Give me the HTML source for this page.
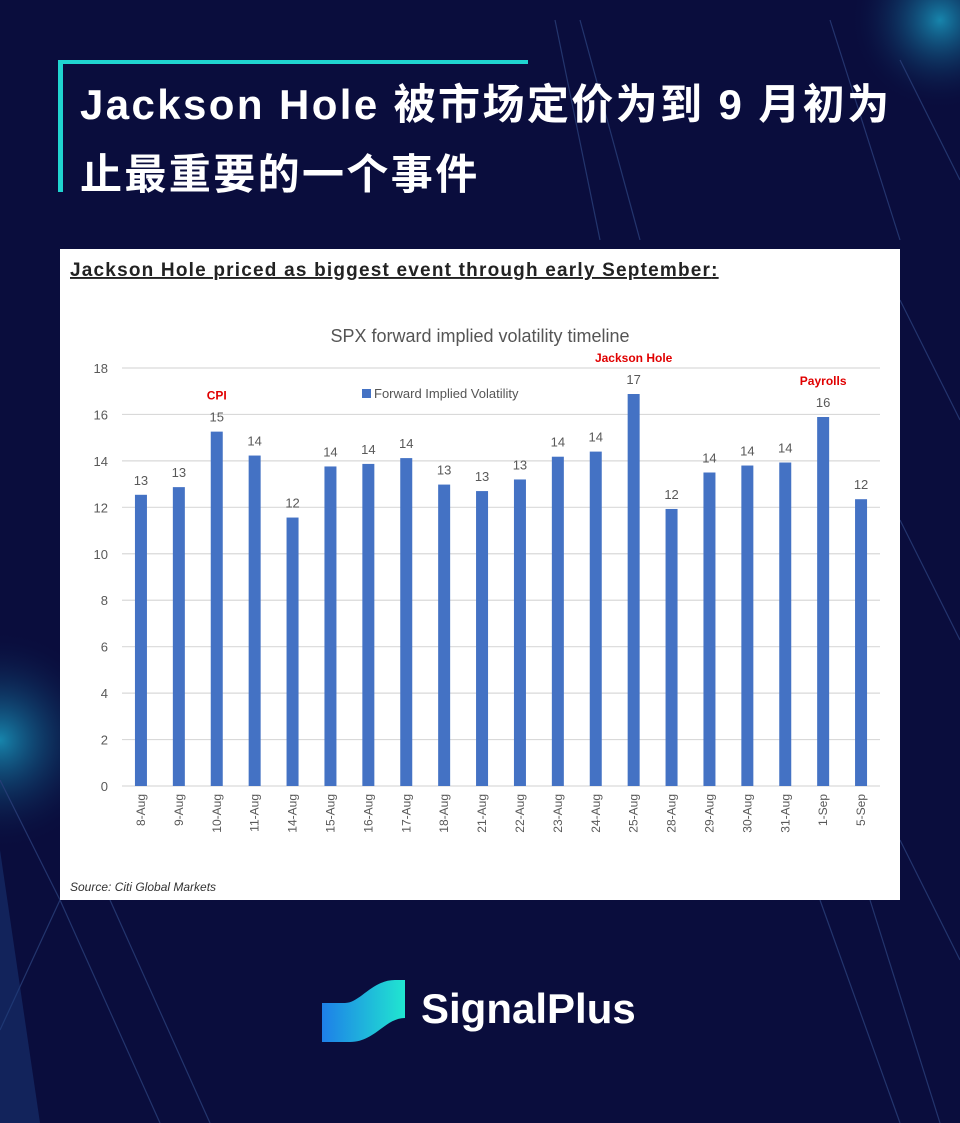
<!DOCTYPE html>
<html><head><meta charset="utf-8"><style>
body{margin:0;width:960px;height:1123px;background:#0a0d3d;overflow:hidden;position:relative;font-family:"Liberation Sans","Noto Sans CJK SC",sans-serif}
#bg{position:absolute;left:0;top:0}
.title{position:absolute;left:80px;top:70px;color:#fff;font-weight:bold;font-size:42px;letter-spacing:2.4px;line-height:70px;width:880px;font-family:"Liberation Sans","Noto Sans CJK SC",sans-serif}
.panel{position:absolute;left:60px;top:249px;width:840px;height:651px;background:#fff}
.brand{position:absolute;left:421px;top:985px;color:#fff;font-weight:bold;font-size:42px}
</style></head><body>
<svg id="bg" width="960" height="1123">
<defs>
<radialGradient id="g1" cx="0.5" cy="0.5" r="0.5"><stop offset="0" stop-color="#1aa3c8" stop-opacity="0.8"/><stop offset="1" stop-color="#0a0d3d" stop-opacity="0"/></radialGradient>
<linearGradient id="lg" x1="0" y1="0" x2="1" y2="0"><stop offset="0" stop-color="#1e7fe8"/><stop offset="1" stop-color="#20e6d0"/></linearGradient>
</defs>
<circle cx="940" cy="20" r="90" fill="url(#g1)"/>
<circle cx="0" cy="740" r="110" fill="url(#g1)"/>
<g stroke="#2a3f7a" stroke-width="1.2" fill="none" opacity="0.8">
<line x1="555" y1="20" x2="600" y2="240"/><line x1="580" y1="20" x2="640" y2="240"/>
<line x1="830" y1="20" x2="900" y2="240"/><line x1="900" y1="60" x2="960" y2="180"/>
<line x1="900" y1="300" x2="960" y2="420"/><line x1="900" y1="520" x2="960" y2="640"/>
<line x1="900" y1="840" x2="960" y2="960"/><line x1="0" y1="780" x2="60" y2="900"/>
<line x1="60" y1="900" x2="160" y2="1123"/><line x1="110" y1="900" x2="210" y2="1123"/>
<line x1="820" y1="900" x2="900" y2="1123"/><line x1="870" y1="900" x2="940" y2="1123"/>
<line x1="60" y1="900" x2="0" y2="1030"/>
</g>
<polygon points="0,850 0,1123 40,1123" fill="#1a3a7a" opacity="0.5"/>
<rect x="60" y="60" width="468" height="4" fill="#20d4d0"/>
<rect x="58" y="60" width="5" height="132" fill="#20d4d0"/>
<path d="M322 1003 L345 1003 C360 1003 372 980 395 980 L405 980 L405 1018 C385 1018 375 1042 350 1042 L322 1042 Z" fill="url(#lg)"/>
</svg>
<div class="title">Jackson Hole 被市场定价为到 9 月初为<br>止最重要的一个事件</div>
<div class="panel">
<svg id="chart" width="840" height="651">
<text x="10" y="27" font-size="19" font-weight="bold" letter-spacing="1.2" fill="#222" text-decoration="underline">Jackson Hole priced as biggest event through early September<tspan text-decoration="none">:</tspan></text>
<text x="420" y="93" font-size="18" fill="#555" text-anchor="middle">SPX forward implied volatility timeline</text>
<rect x="302" y="140" width="9" height="9" fill="#4472c4"/>
<text x="314" y="149" font-size="13" fill="#555">Forward Implied Volatility</text>
<text x="10" y="642" font-size="12" font-style="italic" fill="#333">Source: Citi Global Markets</text>
<g id="plot"></g>
</svg>
</div>
<div class="brand">SignalPlus</div>
<script>
const categories=["8-Aug","9-Aug","10-Aug","11-Aug","14-Aug","15-Aug","16-Aug","17-Aug","18-Aug","21-Aug","22-Aug","23-Aug","24-Aug","25-Aug","28-Aug","29-Aug","30-Aug","31-Aug","1-Sep","5-Sep"];
const values=[12.54,12.87,15.26,14.23,11.56,13.76,13.87,14.12,12.98,12.7,13.2,14.18,14.4,16.88,11.93,13.5,13.8,13.93,15.89,12.35];
const valueLabels=["13","13","15","14","12","14","14","14","13","13","13","14","14","17","12","14","14","14","16","12"];
const yTicks=[0,2,4,6,8,10,12,14,16,18];
const annotations=[{i:2,t:"CPI"},{i:13,t:"Jackson Hole"},{i:18,t:"Payrolls"}];
const ns="http://www.w3.org/2000/svg";
const g=document.getElementById("plot");
const x0=62,x1=820,yBase=537,yTop=119,yMax=18;
const bw=(x1-x0)/categories.length;
const y=v=>yBase-(v/yMax)*(yBase-yTop);
const xc=i=>x0+bw*(i+0.5);
function mk(t,a){const e=document.createElementNS(ns,t);for(const k in a)e.setAttribute(k,a[k]);g.appendChild(e);return e;}
yTicks.forEach(v=>{
 const l=mk("line",{x1:x0,x2:x1,y1:y(v),y2:y(v),stroke:"#d9d9d9","stroke-width":1.2});
 
 
 const t=mk("text",{x:48,y:y(v)+5,"font-size":13,fill:"#595959","text-anchor":"end"});t.textContent=v;
 
 
});
categories.forEach((c,i)=>{
 const b=mk("rect",{x:xc(i)-6,y:y(values[i]),width:12,height:yBase-y(values[i]),fill:"#4472c4"});
 
 
 const t=mk("text",{x:xc(i),y:y(values[i])-10,"font-size":13,fill:"#595959","text-anchor":"middle"});t.textContent=valueLabels[i];
 
 
 const xl=mk("text",{x:0,y:0,"font-size":12,fill:"#595959","text-anchor":"end",transform:`translate(${xc(i)+4},${yBase+8}) rotate(-90)`});xl.textContent=c;
 
 
});
annotations.forEach(a=>{
 const t=mk("text",{x:xc(a.i),y:y(values[a.i])-32,"font-size":12,"font-weight":"bold",fill:"#e00000","text-anchor":"middle"});t.textContent=a.t;
 
 
});
</script>
</body></html>
